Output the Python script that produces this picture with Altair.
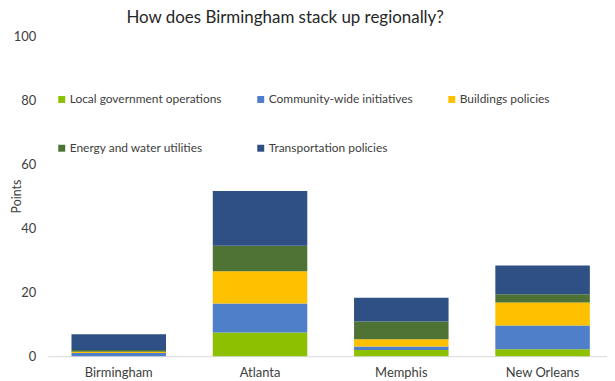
import altair as alt
import pandas as pd

cities = ["Birmingham", "Atlanta", "Memphis", "New Orleans"]
categories = [
    "Local government operations",
    "Community-wide initiatives",
    "Buildings policies",
    "Energy and water utilities",
    "Transportation policies",
]
local_gov = [0.0, 7.4, 1.9, 2.2]
community = [1.0, 9.1, 1.1, 7.4]
buildings = [0.4, 10.1, 2.3, 7.2]
energy = [0.5, 8.0, 5.6, 2.6]
transport = [5.0, 17.1, 7.4, 9.0]
colors = ["#8CC000", "#4F7FC8", "#FFC000", "#4E7335", "#2F5085"]

series = [local_gov, community, buildings, energy, transport]
rows = []
for i, (cat, vals) in enumerate(zip(categories, series)):
    for city, v in zip(cities, vals):
        rows.append({"City": city, "Category": cat, "Points": v, "idx": i})
df = pd.DataFrame(rows)

FONT = "Lato"

chart = alt.Chart(df).mark_bar().encode(
    x=alt.X(
        "City:N",
        sort=cities,
        title=None,
        scale=alt.Scale(paddingInner=0.331, paddingOuter=0.1445, align=0.58),
        axis=alt.Axis(
            labelAngle=0, ticks=False, domainColor="#d9d9d9", labelFontSize=13,
            labelColor="#404040", labelPadding=10, labelFont=FONT,
        ),
    ),
    y=alt.Y(
        "Points:Q",
        stack="zero",
        scale=alt.Scale(domain=[0, 100]),
        axis=alt.Axis(
            values=[0, 20, 40, 60, 80, 100], grid=False, domain=False, ticks=False,
            labelFontSize=13, labelColor="#404040", labelPadding=12, labelFont=FONT,
            title="Points", titleFontSize=12.5, titleFontWeight="normal", titleColor="#404040",
            titleFont=FONT, titleX=-31, titleY=160, titleAlign="center", titleBaseline="middle",
        ),
    ),
    color=alt.Color(
        "Category:N",
        sort=categories,
        scale=alt.Scale(domain=categories, range=colors),
        legend=alt.Legend(
            title=None, orient="none", legendX=8, legendY=57, columns=3,
            direction="horizontal", padding=0,
            symbolType="square", symbolSize=49, symbolStrokeWidth=0,
            labelFontSize=12, labelFont=FONT, labelColor="#404040",
            columnPadding=33, rowPadding=37, labelOffset=2, labelLimit=300,
        ),
    ),
    order=alt.Order("idx:Q", sort="ascending"),
).properties(
    width=562,
    height=321,
    title=alt.TitleParams(
        "How does Birmingham stack up regionally?", anchor="start", dx=116,
        fontSize=17, font=FONT, fontWeight="normal", color="#262626", offset=4,
    ),
    autosize=alt.AutoSizeParams(type="none"),
    padding={"left": 40, "top": 28, "right": 0, "bottom": 24},
).configure_view(stroke=None)

chart.save("out.html", embed_options={"renderer": "svg", "actions": False})
